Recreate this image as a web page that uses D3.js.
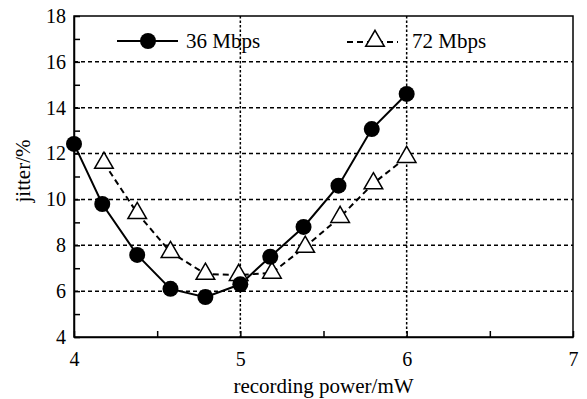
<!DOCTYPE html>
<html>
<head>
<meta charset="utf-8">
<script src="https://cdn.jsdelivr.net/npm/d3@7"></script>
<style>
  body { margin: 0; background: #fff; }
  svg text { font-family: "Liberation Serif", "Times New Roman", Times, "DejaVu Serif", serif !important; fill: #000; }
</style>
</head>
<body>
<svg id="chart" width="587" height="399"></svg>
<script>
// Data
const power36 = [4.0, 4.17, 4.38, 4.58, 4.79, 5.0, 5.18, 5.38, 5.59, 5.79, 6.0];
const jitter36 = [12.42, 9.8, 7.58, 6.1, 5.74, 6.3, 7.5, 8.8, 10.6, 13.07, 14.6];
const power72 = [4.18, 4.38, 4.58, 4.79, 4.99, 5.19, 5.39, 5.6, 5.8, 6.0];
const jitter72 = [11.59, 9.4, 7.7, 6.75, 6.7, 6.8, 7.93, 9.23, 10.7, 11.85];
const xTicks = [4, 5, 6, 7];
const yTicks = [4, 6, 8, 10, 12, 14, 16, 18];

const svg = d3.select("#chart");
const margin = { top: 16, right: 14, bottom: 62, left: 74 };
const width = 587 - margin.left - margin.right;
const height = 399 - margin.top - margin.bottom;
const g = svg.append("g").attr("transform", `translate(${margin.left},${margin.top})`);

const x = d3.scaleLinear().domain([4, 7]).range([0, width]);
const y = d3.scaleLinear().domain([4, 18]).range([height, 0]);

// grid
g.selectAll(".hgrid").data(yTicks.filter(d => d > 4 && d < 18)).enter().append("line")
    .attr("x1", 0).attr("x2", width)
    .attr("y1", d => y(d)).attr("y2", d => y(d))
    .attr("stroke", "#000").attr("stroke-width", 1.5).attr("stroke-dasharray", "4,3");
g.selectAll(".vgrid").data(xTicks.filter(d => d > 4 && d < 7)).enter().append("line")
    .attr("x1", d => x(d)).attr("x2", d => x(d))
    .attr("y1", 0).attr("y2", height)
    .attr("stroke", "#000").attr("stroke-width", 1.5).attr("stroke-dasharray", "2.5,2");

// axes with inward ticks
const xAxis = g.append("g").attr("transform", `translate(0,${height})`)
    .call(d3.axisBottom(x).tickValues(d3.range(4, 7.01, 0.5)).tickSizeInner(-6).tickSizeOuter(0)
        .tickFormat(d => Number.isInteger(d) ? d : ""));
const yAxis = g.append("g")
    .call(d3.axisLeft(y).tickValues(d3.range(4, 18.01, 1)).tickSizeInner(-6).tickSizeOuter(0)
        .tickFormat(d => d % 2 === 0 ? d : ""));
[xAxis, yAxis].forEach(a => {
  a.attr("font-family", null);
  a.selectAll("path, line").attr("stroke", "#000").attr("stroke-width", 1.5);
  a.selectAll("text").style("font-size", "20px").attr("fill", "#000");
});
xAxis.selectAll("text").attr("dy", "1.3em");
yAxis.selectAll("text").attr("x", -8);

// frame
g.append("rect").attr("width", width).attr("height", height)
    .attr("fill", "none").attr("stroke", "#000").attr("stroke-width", 1.5);

// series
const line = d3.line().x(d => x(d[0])).y(d => y(d[1]));
const s36 = power36.map((p, i) => [p, jitter36[i]]);
const s72 = power72.map((p, i) => [p, jitter72[i]]);

g.append("path").datum(s72).attr("d", line)
    .attr("fill", "none").attr("stroke", "#000").attr("stroke-width", 2).attr("stroke-dasharray", "6,4");
g.append("path").datum(s36).attr("d", line)
    .attr("fill", "none").attr("stroke", "#000").attr("stroke-width", 2);

const tri = d3.symbol().type(d3.symbolTriangle).size(150);
g.selectAll(".tri").data(s72).enter().append("path")
    .attr("d", tri)
    .attr("transform", d => `translate(${x(d[0])},${y(d[1])})`)
    .attr("fill", "#fff").attr("stroke", "#000").attr("stroke-width", 1.5);
g.selectAll(".dot").data(s36).enter().append("circle")
    .attr("cx", d => x(d[0])).attr("cy", d => y(d[1])).attr("r", 8)
    .attr("fill", "#000");

// legend
const leg = svg.append("g");
leg.append("line").attr("x1", 117).attr("x2", 178).attr("y1", 41).attr("y2", 41)
    .attr("stroke", "#000").attr("stroke-width", 2);
leg.append("circle").attr("cx", 148).attr("cy", 41).attr("r", 8).attr("fill", "#000");
leg.append("text").attr("x", 186).attr("y", 48).style("font-size", "21px").text("36 Mbps");
leg.append("line").attr("x1", 347).attr("x2", 398).attr("y1", 42).attr("y2", 42)
    .attr("stroke", "#000").attr("stroke-width", 2).attr("stroke-dasharray", "6,4");
leg.append("path").attr("d", tri).attr("transform", "translate(375,41)")
    .attr("fill", "#fff").attr("stroke", "#000").attr("stroke-width", 1.5);
leg.append("text").attr("x", 412).attr("y", 48).style("font-size", "21px").text("72 Mbps");

// axis titles
svg.append("text").attr("x", margin.left + width / 2).attr("y", 393)
    .attr("text-anchor", "middle").style("font-size", "21px").text("recording power/mW");
svg.append("text").attr("transform", "translate(30,171) rotate(-90)")
    .attr("text-anchor", "middle").style("font-size", "21px").text("jitter/%");
</script>
</body>
</html>
